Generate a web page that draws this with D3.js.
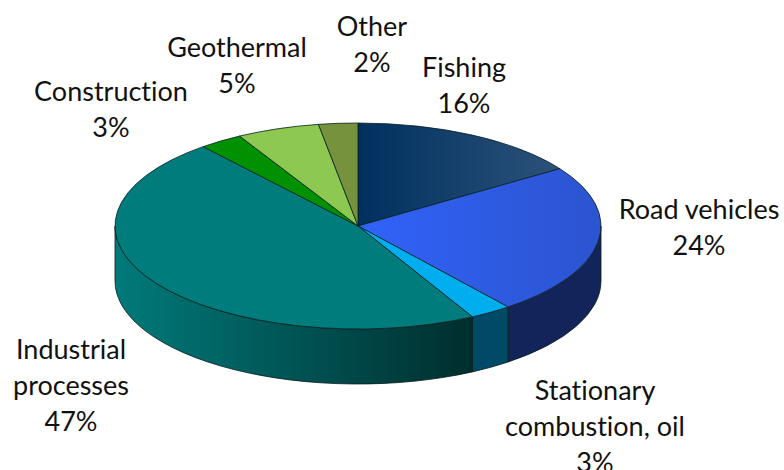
<!DOCTYPE html>
<html><head><meta charset="utf-8">
<style>html,body{margin:0;padding:0;background:#fff}svg{display:block}text{font-family:Lato,"Open Sans",sans-serif;font-size:27px;fill:#111;font-variant-ligatures:none}</style>
<script src="https://cdn.jsdelivr.net/npm/d3@7/dist/d3.min.js"></script>
</head><body><script>
(function(){
const categories = ["Fishing","Road vehicles","Stationary combustion, oil","Industrial processes","Construction","Geothermal","Other"];
const values = [15.6,23.8,2.8,46.8,2.9,5.5,2.6];
const percentLabels = ["16%","24%","3%","47%","3%","5%","2%"];
const labelLines = [["Fishing"],["Road vehicles"],["Stationary","combustion, oil"],["Industrial","processes"],["Construction"],["Geothermal"],["Other"]];

const W=784,H=470,cx=358,cy=226,rx=243,ry=103,depth=55,lineH=36;
const topStops=[["#00305f","#2c527a"],["#3163fa","#2c54cf"],["#00aeef","#00aeef"],["#007c7c","#007c7c"],["#009000","#009000"],["#8dc951","#8dc951"],["#76923c","#76923c"]];
const sideStops=[["#12245a","#12245a"],["#12245a","#12245a"],["#004a68","#004a68"],["#007a7a","#002e2e"],["#009000","#009000"],["#8dc951","#8dc951"],["#76923c","#76923c"]];
const labelAt=[[464,68],[699,210],[595,391],[71,350],[111,92],[237,48],[372,27]];

const svg=d3.select("body").append("svg").attr("width",W).attr("height",H);
const defs=svg.append("defs");
const pie=d3.pie().sort(null).value(d=>d).startAngle(0).endAngle(2*Math.PI);
const arcs=pie(values);
const px=d3.scaleLinear().domain([-1,1]).range([cx-rx,cx+rx]);
const py=d3.scaleLinear().domain([-1,1]).range([cy-ry,cy+ry]);
const pt=(a,dy=0)=>[px(Math.sin(a)),py(-Math.cos(a))+dy];

function grad(id,x1,x2,stops){
  const g=defs.append("linearGradient").attr("id",id).attr("gradientUnits","userSpaceOnUse")
    .attr("x1",x1).attr("x2",x2).attr("y1",0).attr("y2",0);
  g.append("stop").attr("offset",0).attr("stop-color",stops[0]);
  g.append("stop").attr("offset",1).attr("stop-color",stops[1]);
}
function wedgeBounds(d){
  const as=[d.startAngle,d.endAngle];
  [0,Math.PI/2,Math.PI,1.5*Math.PI].forEach(q=>{if(q>d.startAngle&&q<d.endAngle)as.push(q)});
  const xs=as.map(a=>pt(a)[0]);
  return [Math.min(...xs,cx),Math.max(...xs,cx)];
}
const walls=svg.append("g");
arcs.forEach((d,i)=>{
  const a0=Math.max(d.startAngle,Math.PI/2),a1=Math.min(d.endAngle,1.5*Math.PI);
  if(a1<=a0)return;
  const p0=pt(a0),p1=pt(a1),q1=pt(a1,depth),q0=pt(a0,depth);
  const left=Math.min(p0[0],p1[0]),right=Math.max(p0[0],p1[0]);
  grad("s"+i,left,right,sideStops[i]);
  const big=a1-a0>Math.PI?1:0;
  walls.append("path")
    .attr("d",`M${p0}A${rx},${ry} 0 ${big} 1 ${p1}L${q1}A${rx},${ry} 0 ${big} 0 ${q0}Z`)
    .attr("fill",`url(#s${i})`).attr("stroke","#0a1a1a").attr("stroke-width",0.8).attr("stroke-linejoin","round");
});
const arc=d3.arc().innerRadius(0).outerRadius(rx);
const face=svg.append("g").attr("transform",`translate(${cx},${cy}) scale(1,${ry/rx})`);
arcs.forEach((d,i)=>{
  const [l,r]=wedgeBounds(d);
  grad("t"+i,l-cx,r-cx,topStops[i]);
  face.append("path").attr("d",arc(d)).attr("fill",`url(#t${i})`)
    .attr("stroke","#06201f").attr("stroke-width",0.8).attr("vector-effect","non-scaling-stroke");
});
categories.forEach((c,i)=>{
  const lines=labelLines[i].concat(percentLabels[i]);
  const t=svg.append("text").attr("text-anchor","middle");
  lines.forEach((s,j)=>t.append("tspan").attr("x",labelAt[i][0]).attr("y",labelAt[i][1]+9+j*lineH).text(s));
});
})();
</script></body></html>
